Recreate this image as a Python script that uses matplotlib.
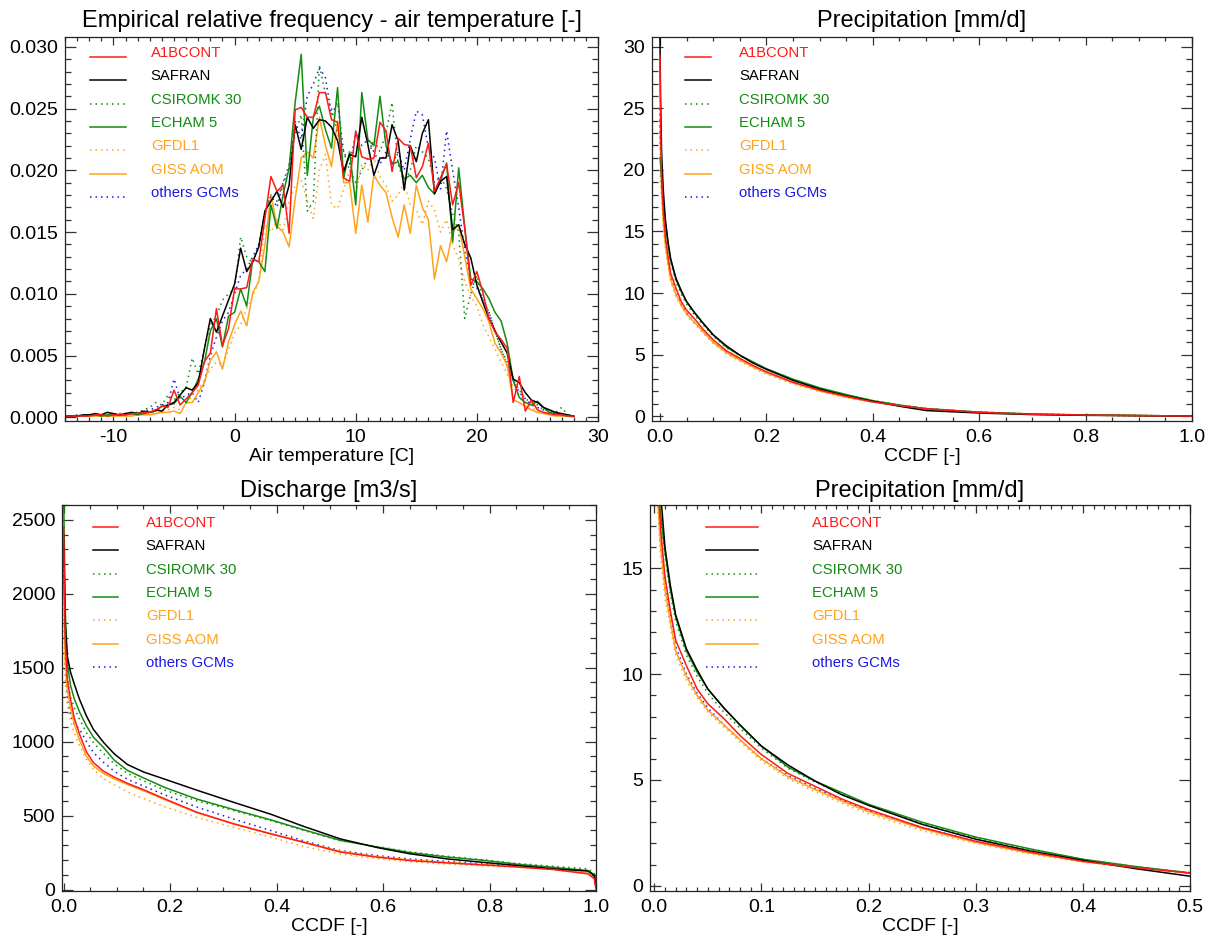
import numpy as np
import matplotlib
matplotlib.use("Agg")
import matplotlib.pyplot as plt
from matplotlib.ticker import MultipleLocator, FormatStrFormatter

plt.rcParams['font.family'] = ['Liberation Sans', 'DejaVu Sans']
plt.rcParams['axes.unicode_minus'] = False

# ---- series ---------------------------------------------------------------
labels = ["A1BCONT", "SAFRAN", "CSIROMK 30", "ECHAM 5", "GFDL1", "GISS AOM", "others GCMs"]
colors = ["#ff1a1a", "#000000", "#128c12", "#128c12", "#ffa31a", "#ffa31a", "#1a1ae6"]
styles = ["-", "-", ":", "-", ":", "-", ":"]

# ---- air temperature histograms (relative frequency per 0.5 C bin, x1e-4) --
temp_bins = np.arange(-14.0, 28.01, 0.5)

freq_a1bcont = [1, 1, 1, 1, 1, 2, 2, 1, 2, 2,
                2, 3, 3, 4, 4, 6, 9, 8, 22, 10,
                15, 20, 26, 45, 52, 88, 58, 72, 104, 104,
                105, 128, 126, 161, 195, 183, 188, 149, 249, 251,
                243, 243, 263, 263, 241, 239, 194, 191, 232, 211,
                209, 210, 239, 232, 199, 226, 221, 220, 194, 203,
                222, 183, 194, 205, 172, 190, 153, 107, 118, 101,
                80, 69, 63, 56, 12, 33, 5, 14, 6, 4,
                3, 2, 2, 1, 1]
freq_safran = [1, 1, 1, 2, 2, 3, 2, 4, 3, 2,
               3, 4, 3, 5, 4, 6, 5, 10, 12, 18,
               24, 22, 28, 55, 80, 69, 82, 95, 108, 137,
               118, 126, 138, 167, 175, 183, 170, 188, 237, 217,
               243, 234, 241, 240, 235, 224, 199, 213, 211, 243,
               221, 196, 210, 210, 237, 224, 184, 220, 207, 230,
               241, 181, 191, 195, 152, 156, 140, 129, 107, 93,
               80, 70, 61, 52, 31, 28, 20, 14, 12, 8,
               6, 4, 3, 2, 1]
freq_csiromk = [1, 1, 2, 1, 1, 2, 2, 1, 2, 3,
                3, 3, 4, 6, 8, 12, 10, 18, 14, 20,
                24, 48, 35, 55, 75, 82, 95, 100, 104, 146,
                130, 125, 140, 165, 180, 175, 190, 205, 230, 245,
                167, 175, 285, 262, 250, 230, 215, 200, 190, 200,
                210, 225, 215, 230, 255, 205, 190, 200, 220, 215,
                210, 190, 195, 185, 165, 150, 80, 100, 115, 95,
                85, 70, 55, 45, 30, 22, 15, 12, 10, 6,
                5, 4, 8, 2, 1]
freq_echam = [1, 1, 1, 1, 2, 2, 1, 2, 2, 2,
              2, 3, 2, 3, 4, 5, 9, 10, 11, 17,
              12, 20, 31, 44, 70, 80, 57, 82, 85, 104,
              90, 128, 126, 118, 172, 153, 180, 202, 255, 294,
              196, 243, 252, 233, 218, 267, 194, 215, 172, 263,
              225, 220, 260, 220, 205, 207, 193, 196, 190, 196,
              186, 181, 192, 206, 142, 202, 154, 112, 110, 104,
              96, 85, 78, 60, 30, 16, 12, 10, 13, 8,
              4, 3, 2, 1, 1]
freq_gfdl = [1, 1, 1, 1, 1, 1, 2, 1, 1, 2,
             2, 2, 3, 3, 4, 3, 5, 6, 8, 6,
             10, 18, 22, 30, 39, 45, 42, 55, 68, 75,
             88, 98, 110, 156, 150, 160, 152, 175, 188, 192,
             175, 161, 200, 213, 172, 169, 185, 200, 180, 205,
             200, 210, 195, 188, 175, 180, 190, 172, 168, 156,
             175, 168, 150, 160, 140, 128, 110, 98, 90, 75,
             65, 55, 45, 35, 25, 18, 12, 8, 5, 4,
             3, 2, 1, 1, 0]
freq_giss = [1, 1, 1, 1, 1, 1, 1, 1, 1, 1,
             1, 1, 2, 2, 2, 3, 4, 4, 5, 3,
             12, 12, 20, 28, 46, 53, 39, 61, 75, 86,
             74, 101, 110, 139, 180, 155, 150, 138, 177, 210,
             215, 210, 243, 220, 203, 240, 190, 190, 149, 188,
             158, 196, 188, 182, 162, 146, 172, 149, 188, 170,
             160, 112, 139, 126, 150, 156, 130, 104, 96, 88,
             77, 60, 52, 42, 14, 12, 9, 6, 4, 3,
             2, 1, 1, 1, 0]
freq_others = [1, 1, 1, 1, 2, 1, 2, 2, 3, 2,
               3, 3, 4, 5, 6, 8, 10, 12, 31, 15,
               18, 20, 12, 28, 50, 65, 78, 85, 100, 115,
               120, 130, 140, 165, 180, 170, 190, 200, 240, 225,
               260, 270, 283, 275, 245, 255, 215, 205, 230, 220,
               225, 215, 205, 215, 205, 215, 200, 225, 248, 245,
               218, 210, 185, 232, 200, 170, 135, 110, 105, 95,
               85, 70, 55, 42, 30, 20, 15, 10, 8, 6,
               4, 3, 2, 1, 1]
freq_scale = 1e-4

# ---- precipitation exceedance curves [mm/d] ----------------------------------
precip_ccdf = [0.0, 0.001, 0.003, 0.006, 0.01, 0.015, 0.02, 0.03, 0.04, 0.05,
               0.065, 0.08, 0.1, 0.125, 0.15, 0.175, 0.2, 0.25, 0.3, 0.35,
               0.4, 0.45, 0.5, 0.6, 0.7, 0.8, 0.9, 1.0]
precip_a1bcont = [29.3, 24.0, 19.5, 16.8, 14.6, 13.0, 11.6, 10.4, 9.3, 8.6,
                  7.9, 7.1, 6.2, 5.3, 4.7, 4.1, 3.6, 2.75, 2.1, 1.6,
                  1.15, 0.85, 0.6, 0.3, 0.15, 0.08, 0.04, 0.0]
precip_safran = [30.8, 26.0, 21.5, 18.5, 16.0, 14.2, 12.8, 11.2, 10.2, 9.3,
                 8.4, 7.6, 6.6, 5.7, 4.95, 4.3, 3.8, 2.9, 2.2, 1.65,
                 1.2, 0.8, 0.45, 0.25, 0.12, 0.06, 0.03, 0.0]
precip_csiromk = [24.0, 21.5, 19.0, 17.2, 15.6, 13.8, 12.5, 10.9, 9.9, 9.1,
                  8.2, 7.45, 6.5, 5.55, 4.9, 4.35, 3.8, 2.95, 2.25, 1.7,
                  1.25, 0.9, 0.6, 0.32, 0.17, 0.09, 0.05, 0.0]
precip_echam = [21.0, 20.5, 19.5, 17.5, 15.8, 14.0, 12.7, 11.1, 10.1, 9.3,
                8.4, 7.6, 6.6, 5.6, 4.95, 4.4, 3.85, 3.0, 2.3, 1.75,
                1.25, 0.9, 0.6, 0.32, 0.17, 0.09, 0.05, 0.0]
precip_gfdl = [20.0, 19.0, 18.0, 15.5, 13.6, 12.2, 10.9, 9.7, 8.9, 8.2,
               7.5, 6.8, 5.9, 5.05, 4.45, 3.9, 3.4, 2.6, 2.0, 1.5,
               1.12, 0.82, 0.58, 0.3, 0.15, 0.08, 0.04, 0.0]
precip_giss = [23.0, 22.0, 18.5, 16.0, 14.0, 12.5, 11.1, 9.9, 9.0, 8.3,
               7.6, 6.9, 6.0, 5.15, 4.55, 4.0, 3.5, 2.7, 2.05, 1.55,
               1.15, 0.85, 0.6, 0.3, 0.15, 0.08, 0.04, 0.0]
precip_others = [25.0, 22.0, 19.0, 16.3, 14.3, 12.7, 11.3, 10.0, 9.1, 8.4,
                 7.6, 6.9, 6.0, 5.2, 4.6, 4.05, 3.55, 2.75, 2.1, 1.6,
                 1.2, 0.88, 0.62, 0.32, 0.16, 0.08, 0.04, 0.0]

# ---- discharge exceedance curves [m3/s] ----------------------------------------
flow_ccdf = [0.0, 0.003, 0.007, 0.013, 0.02, 0.03, 0.043, 0.056, 0.075, 0.095,
             0.12, 0.15, 0.19, 0.25, 0.32, 0.39, 0.45, 0.52, 0.59, 0.65,
             0.72, 0.79, 0.85, 0.92, 0.985, 0.997, 1.0]
flow_a1bcont = [2450, 1700, 1420, 1285, 1160, 1050, 930, 858, 800, 760,
                718, 675, 613, 523, 443, 375, 320, 253, 218, 196,
                180, 166, 153, 135, 106, 72, 4]
flow_safran = [2400, 1800, 1578, 1470, 1390, 1285, 1173, 1083, 995, 918,
               845, 795, 746, 672, 589, 508, 428, 342, 283, 242,
               207, 183, 163, 140, 125, 94, 16]
flow_csiromk = [2300, 1700, 1420, 1300, 1230, 1150, 1060, 993, 920, 850,
                785, 735, 672, 600, 533, 465, 400, 330, 290, 255,
                225, 200, 177, 157, 140, 110, 20]
flow_echam = [2700, 1900, 1530, 1380, 1290, 1200, 1106, 1030, 960, 875,
              805, 755, 690, 612, 540, 470, 405, 332, 287, 250,
              220, 197, 172, 150, 128, 100, 20]
flow_gfdl = [1900, 1400, 1250, 1140, 1060, 971, 880, 813, 750, 710,
             660, 615, 560, 488, 420, 353, 292, 240, 207, 188,
             172, 160, 150, 139, 117, 85, 8]
flow_giss = [2100, 1550, 1350, 1230, 1120, 1010, 900, 836, 785, 748,
             710, 668, 608, 520, 445, 378, 322, 258, 222, 200,
             183, 168, 155, 137, 110, 75, 5]
flow_others = [2200, 1500, 1280, 1180, 1120, 1083, 1000, 926, 860, 800,
               745, 700, 640, 558, 476, 398, 330, 263, 229, 207,
               190, 173, 160, 151, 128, 95, 15]

freq_series = [freq_a1bcont, freq_safran, freq_csiromk, freq_echam,
               freq_gfdl, freq_giss, freq_others]
precip_series = [precip_a1bcont, precip_safran, precip_csiromk, precip_echam,
                 precip_gfdl, precip_giss, precip_others]
flow_series = [flow_a1bcont, flow_safran, flow_csiromk, flow_echam,
               flow_gfdl, flow_giss, flow_others]

# draw order: others first so the named runs sit on top
draw_order = [6, 4, 5, 2, 3, 1, 0]

W, H = 1217, 944
fig = plt.figure(figsize=(W / 100, H / 100), dpi=100)

LW = 1.1


def make_axes(px_left, px_top, px_right, px_bottom):
    return fig.add_axes([px_left / W, 1 - px_bottom / H,
                         (px_right - px_left) / W, (px_bottom - px_top) / H])


def line_style(ls):
    return (0, (1.0, 2.6)) if ls == ":" else "-"


def style_axes(ax, xmaj, xmin, ymaj, ymin, xfmt, yfmt):
    ax.xaxis.set_major_locator(MultipleLocator(xmaj))
    ax.xaxis.set_minor_locator(MultipleLocator(xmin))
    ax.yaxis.set_major_locator(MultipleLocator(ymaj))
    ax.yaxis.set_minor_locator(MultipleLocator(ymin))
    ax.xaxis.set_major_formatter(FormatStrFormatter(xfmt))
    ax.yaxis.set_major_formatter(FormatStrFormatter(yfmt))
    ax.tick_params(which="both", direction="in", top=True, right=True,
                   labelsize=14, width=0.9, color="#333333")
    ax.tick_params(axis="x", which="major", length=5.5, pad=6)
    ax.tick_params(axis="x", which="minor", length=2.8)
    ax.tick_params(axis="y", which="major", length=8, pad=5)
    ax.tick_params(axis="y", which="minor", length=4)
    for sp in ax.spines.values():
        sp.set_linewidth(0.9)
        sp.set_color("#222222")


def draw_legend(ax, x0, x1, xt, height_px, first_px):
    for i, (lab, c, ls) in enumerate(zip(labels, colors, styles)):
        ypx = first_px + 23.3 * i
        y_line = 1 - ypx / height_px
        y_text = 1 - (ypx - 4) / height_px
        ax.plot([x0, x1], [y_line, y_line], transform=ax.transAxes, color=c,
                ls=line_style(ls), lw=LW, clip_on=False)
        ax.text(xt, y_text, lab, transform=ax.transAxes, color=c,
                fontsize=10.7, va="center", ha="left")


def plot_series(ax, x, series, scale=1.0):
    for k in draw_order:
        y = np.asarray(series[k], dtype=float) * scale
        ax.plot(x, y, color=colors[k], ls=line_style(styles[k]), lw=LW)


# ---- top left: air temperature ------------------------------------------------
ax1 = make_axes(65, 37, 598, 421)
plot_series(ax1, temp_bins, freq_series, freq_scale)
ax1.set_xlim(-14, 30)
ax1.set_ylim(-0.0003, 0.0308)
style_axes(ax1, 10, 1, 0.005, 0.001, "%d", "%.3f")
ax1.set_title("Empirical relative frequency - air temperature [-]", fontsize=17, pad=7)
ax1.set_xlabel("Air temperature [C]", fontsize=14, labelpad=1)
draw_legend(ax1, 0.047, 0.114, 0.161, 384, 20)

# ---- top right: precipitation ------------------------------------------------------
ax2 = make_axes(652, 37, 1192, 421)
plot_series(ax2, precip_ccdf, precip_series)
ax2.set_xlim(-0.015, 1.0)
ax2.set_ylim(-0.4, 30.8)
style_axes(ax2, 0.2, 0.05, 5, 1, "%.1f", "%d")
ax2.set_title("Precipitation [mm/d]", fontsize=17, pad=7)
ax2.set_xlabel("CCDF [-]", fontsize=14, labelpad=1)
draw_legend(ax2, 0.061, 0.109, 0.161, 384, 20)

# ---- bottom left: discharge -----------------------------------------------------------
ax3 = make_axes(62, 505, 596, 891)
plot_series(ax3, flow_ccdf, flow_series)
ax3.set_xlim(-0.003, 1.0)
ax3.set_ylim(-10, 2600)
style_axes(ax3, 0.2, 0.05, 500, 100, "%.1f", "%d")
ax3.set_title("Discharge [m3/s]", fontsize=17, pad=6)
ax3.set_xlabel("CCDF [-]", fontsize=14, labelpad=1)
draw_legend(ax3, 0.058, 0.105, 0.157, 386, 22)

# ---- bottom right: precipitation, upper half of the distribution ---------------------
ax4 = make_axes(650, 505, 1190, 891)
plot_series(ax4, precip_ccdf, precip_series)
ax4.set_xlim(-0.004, 0.5)
ax4.set_ylim(-0.25, 18.0)
style_axes(ax4, 0.1, 0.01, 5, 1, "%.1f", "%d")
ax4.set_title("Precipitation [mm/d]", fontsize=17, pad=6)
ax4.set_xlabel("CCDF [-]", fontsize=14, labelpad=1)
draw_legend(ax4, 0.104, 0.2, 0.30, 386, 22)

fig.savefig("out.png", dpi=100)
